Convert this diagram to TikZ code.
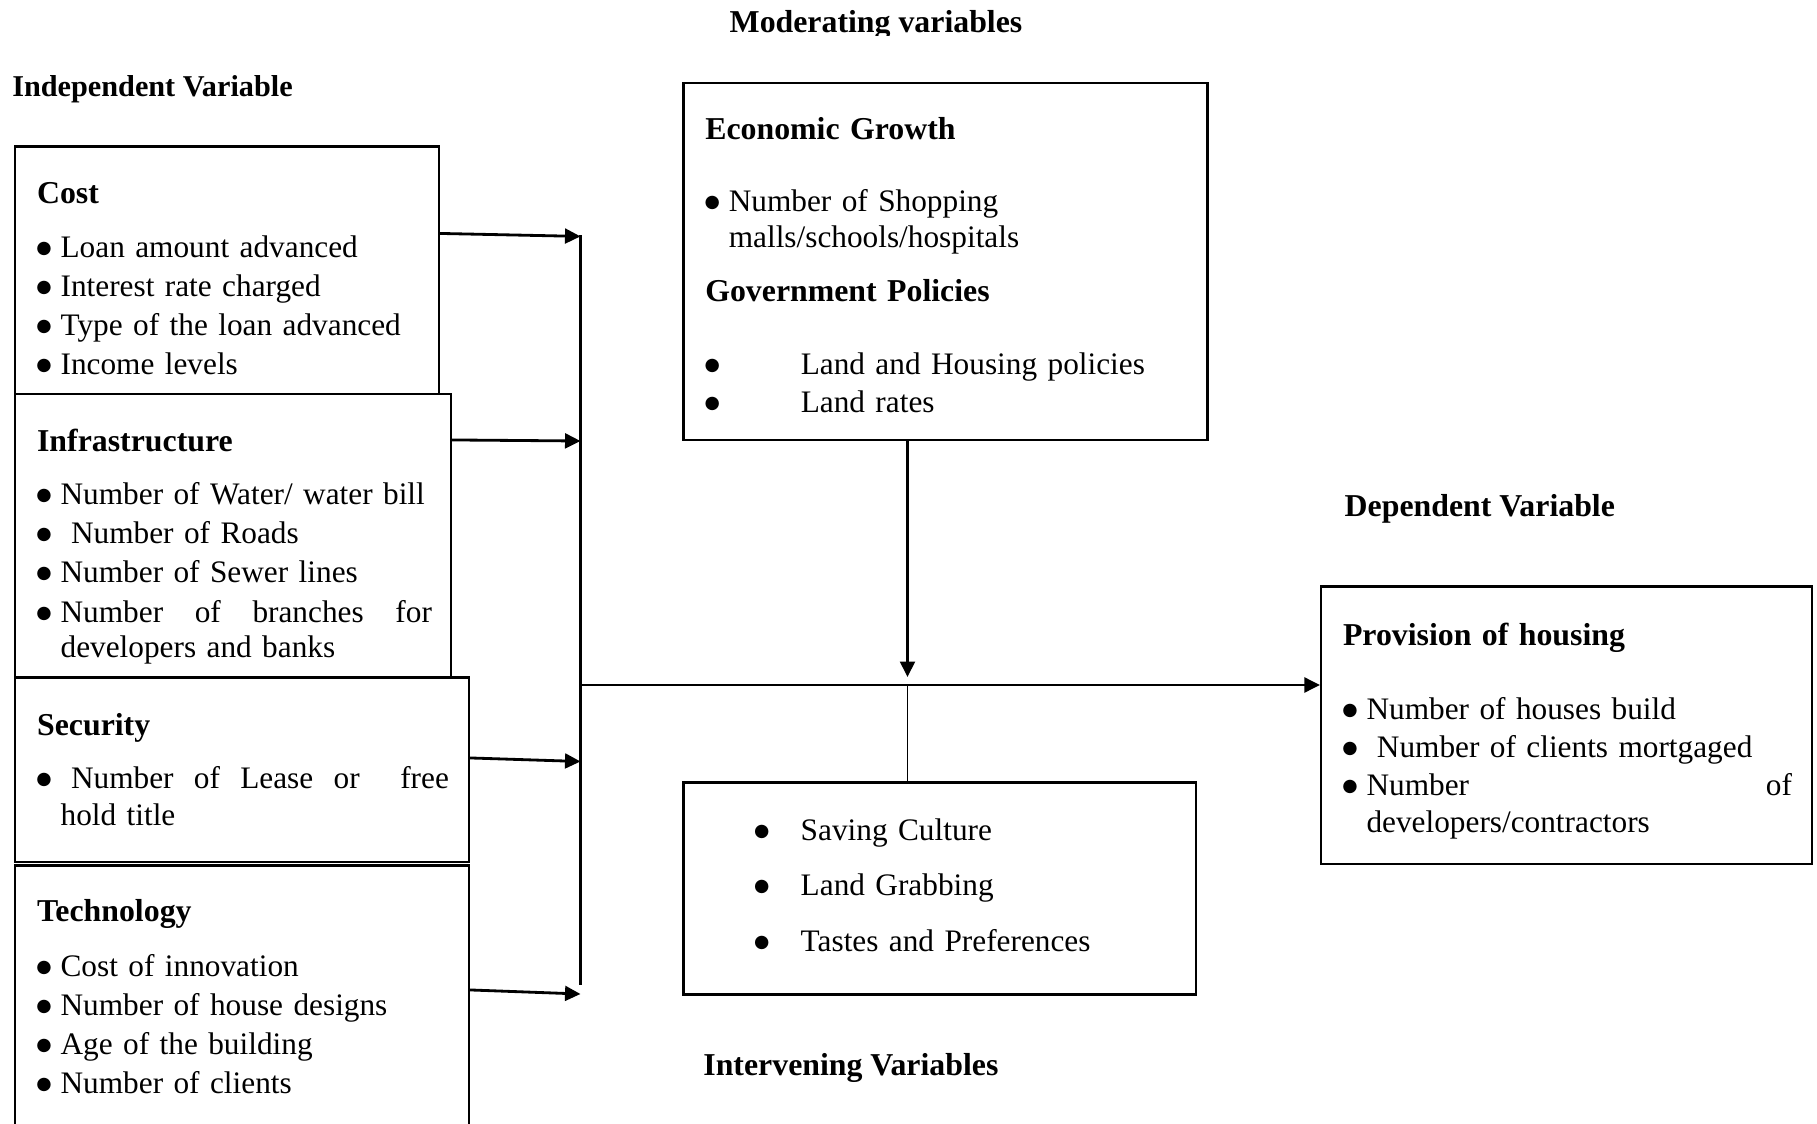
\documentclass[tikz,border=0pt]{standalone}
\usepackage{fontspec}
\setmainfont{Liberation Serif}
\newfontfamily\symfont{DejaVu Sans}
\usepackage{tikz}
\usetikzlibrary{arrows.meta,calc,fit}
\tikzset{
	box/.style={draw, semithick, inner sep=0pt},
	txt/.style={anchor=base west, inner sep=0pt, align=left, font=\fontsize{8.9}{10.24}\selectfont},
	lbl/.style={anchor=base west, inner sep=0pt, font=\fontsize{9.05}{10.24}\selectfont\bfseries},
	arr/.style={-{Triangle[length=4.4pt,width=4.2pt]}, thick}
}
\newcommand{\bul}[1][0.235cm]{\makebox[#1][l]{\hspace{-0.2pt}\raisebox{1.1pt}{\symfont\fontsize{5}{6}\selectfont ●}}}
\newcommand{\hd}[1]{{\fontsize{9.05}{10.24}\selectfont\bfseries #1}}

\begin{document}
\begin{tikzpicture}[x=0.01cm,y=-0.01cm]
	\useasboundingbox (0,0) rectangle (1817,1124);
	
	% group headings
	\begin{scope}
		\clip (0,0) rectangle (1817,35.5);
		\node[lbl, anchor=base] (modlbl) at (876,32) {Moderating variables};
	\end{scope}
	\node[lbl, font=\fontsize{8.6}{10}\selectfont\bfseries] (indlbl) at (11.6,96.5) {Independent Variable};
	\node[lbl] (deplbl) at (1344,516) {Dependent Variable};
	\node[lbl] (intlbl) at (702.7,1075.5) {Intervening Variables};
	
	% independent variables
	\node[box, fit={(15,146.5) (439,394)}] (cost) {};
	\node[box, fit={(15,394) (451,677.5)}] (infra) {};
	\node[box, fit={(15,677.5) (469,862)}] (secur) {};
	\node[box, fit={(15,865.5) (469,1140)}] (tech) {};
	
	\node[txt, text width=3.9cm] (costtxt) at (36.4,203.6) {\hd{Cost}\\[0.174cm]
		\bul Loan amount advanced\\[0.03cm]
		\bul Interest rate charged\\[0.03cm]
		\bul Type of the loan advanced\\[0.03cm]
		\bul Income levels};
	\node[txt, text width=3.946cm] (infratxt) at (36.4,451) {\hd{Infrastructure}\\[0.17cm]
		\bul Number of Water/ water bill\\[0.03cm]
		\bul\ Number of Roads\\[0.03cm]
		\bul Number of Sewer lines\\[0.04cm]
		\bul Number\hfill of\hfill branches\hfill for\\[-0.01cm]
		\hspace*{0.235cm}developers and banks};
	\node[txt, text width=4.116cm] (securtxt) at (36.4,735) {\hd{Security}\\[0.17cm]
		\bul\ Number\hfill of\hfill Lease\hfill or\hfill\hfill free\\[0.01cm]
		\hspace*{0.235cm}hold title};
	\node[txt, text width=4cm] (techtxt) at (36.4,921.7) {\hd{Technology}\\[0.183cm]
		\bul Cost of innovation\\[0.03cm]
		\bul Number of house designs\\[0.03cm]
		\bul Age of the building\\[0.03cm]
		\bul Number of clients};
	
	% moderating variables
	\node[box, fit={(683.5,82.7) (1207.5,440)}] (mod) {};
	\node[txt, text width=4.8cm] (modtxt) at (704.6,139.3) {\hd{Economic Growth}\\[0.364cm]
		\bul Number of Shopping\\
		\hspace*{0.235cm}malls/schools/hospitals\\[0.174cm]
		\hd{Government Policies}\\[0.376cm]
		\bul[0.954cm]Land and Housing policies\\[0.02cm]
		\bul[0.954cm]Land rates};
	
	% intervening variables
	\node[box, fit={(683.5,782.5) (1196,994.5)}] (inter) {};
	\node[txt, text width=4cm] (intertxt) at (754,840.4) {\bul[0.46cm]Saving Culture\\[0.19cm]
		\bul[0.46cm]Land Grabbing\\[0.198cm]
		\bul[0.46cm]Tastes and Preferences};
	
	% dependent variable
	\node[box, fit={(1321,586.5) (1812,864)}] (dep) {};
	\node[txt, text width=4.487cm] (deptxt) at (1342.3,645) {\hd{Provision of housing}\\[0.38cm]
		\bul Number of houses build\\[0.023cm]
		\bul\ Number of clients mortgaged\\[0.023cm]
		\bul Number\hfill of\\[0.007cm]
		\hspace*{0.235cm}developers/contractors};
	
	% bus and junctions
	\coordinate (bustop) at (580.5,235);
	\coordinate (busbot) at (580.5,985);
	\coordinate (in1) at (580.5,236.4);
	\coordinate (in2) at (580.5,441);
	\coordinate (in3) at (580.5,761.5);
	\coordinate (in4) at (580.5,994);
	\coordinate (hub) at (580.5,685);
	\coordinate (jn) at (907.5,685);
	\coordinate (jtip) at (907.5,677);
	
	\draw[thick] (bustop) -- (busbot);
	\draw[arr] ($(cost.north east)+(0,88)$) -- (in1);
	\draw[arr] ($(infra.north east)+(0,47)$) -- (in2);
	\draw[arr] ($(secur.north east)+(0,81.5)$) -- (in3);
	\draw[arr] ($(tech.north east)+(0,125.5)$) -- (in4);
	\draw[arr] (hub) -- (dep.west |- hub);
	\draw[arr] (mod.south -| jn) -- (jtip);
	\draw[thin] (jn) -- (inter.north -| jn);
\end{tikzpicture}
\end{document}
